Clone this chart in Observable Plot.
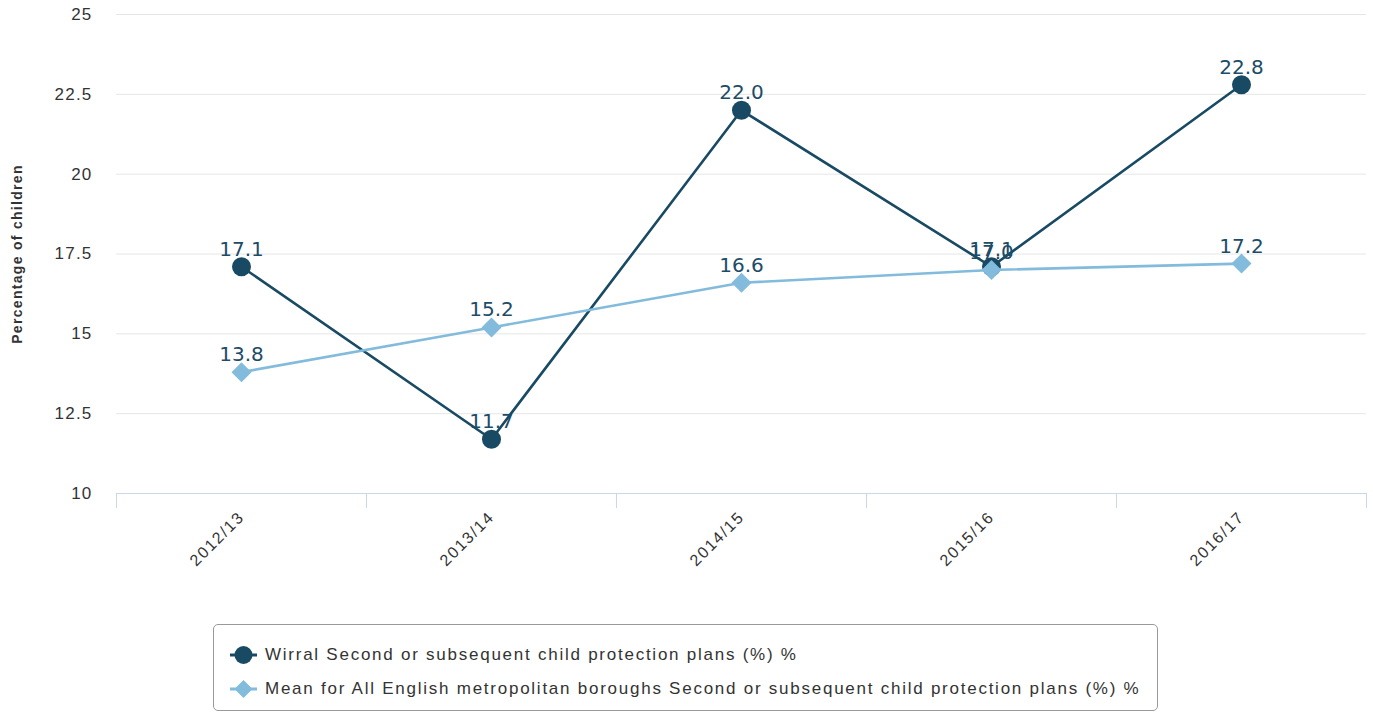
<!DOCTYPE html>
<html>
<head>
<meta charset="utf-8">
<script src="https://cdn.jsdelivr.net/npm/d3@7"></script>
<script src="https://cdn.jsdelivr.net/npm/@observablehq/plot@0.6"></script>
<style>
  html, body { margin: 0; padding: 0; background: #fff; }
  #wrap { position: relative; width: 1373px; height: 713px; }
  #legend { position: absolute; left: 213px; top: 624px; width: 945px; height: 87px; box-sizing: border-box;
    border: 1px solid #999; border-radius: 5px; font-family: "Liberation Sans", Arial, sans-serif; font-size: 17px;
    color: #333; letter-spacing: 1.75px; }
  .item { position: absolute; left: 15px; height: 24px; display: flex; align-items: center; white-space: nowrap; }
  .item svg { margin-right: 8px; }
</style>
</head>
<body>
<div id="wrap">
  <div id="chart"></div>
  <div id="legend"></div>
</div>
<script>
const categories = ["2012/13", "2013/14", "2014/15", "2015/16", "2016/17"];
const wirral = [17.1, 11.7, 22.0, 17.1, 22.8];
const meanMet = [13.8, 15.2, 16.6, 17.0, 17.2];
const yTicks = [10, 12.5, 15, 17.5, 20, 22.5, 25];
const seriesNames = [
  "Wirral Second or subsequent child protection plans (%) %",
  "Mean for All English metropolitan boroughs Second or subsequent child protection plans (%) %"
];
const yTitle = "Percentage of children";

const dark = "#194a64";
const light = "#82bbdb";
const labelColor = "#1c4c68";

const idx = categories.map((c, i) => i);
const boundaries = categories.map((c, i) => i - 0.5).concat([categories.length - 0.5]);
const wirralRows = categories.map((c, i) => ({i, cat: c, v: wirral[i]}));
const meanRows = categories.map((c, i) => ({i, cat: c, v: meanMet[i]}));

const chart = Plot.plot({
  width: 1373,
  height: 615,
  marginLeft: 116,
  marginRight: 7,
  marginTop: 14,
  marginBottom: 122,
  x: {type: "linear", domain: [-0.5, categories.length - 0.5]},
  y: {domain: [10, 25]},
  style: {fontFamily: "'Liberation Sans', Arial, sans-serif", fontSize: "16px", color: "#333", background: "#fff"},
  marks: [
    Plot.gridY(yTicks.slice(1), {stroke: "#e6e6e6", strokeOpacity: 1}),
    Plot.axisY(yTicks, {tickSize: 0, tickPadding: 24, tickFormat: d => String(d), label: null, fill: "#333", fontSize: 17}),
    Plot.ruleY([10], {stroke: "#ccd6eb", strokeWidth: 1.2}),
    Plot.axisX(boundaries, {tickSize: 15, stroke: "#ccd6eb", strokeOpacity: 1, tickFormat: () => "", label: null}),
    Plot.axisX(idx, {tickSize: 0, tickPadding: 21, tickRotate: -45, tickFormat: i => categories[i], label: null, fill: "#333"}),
    Plot.text([yTitle], {frameAnchor: "left", dx: -99, rotate: -90, textAnchor: "middle", fontWeight: "bold", fontSize: 14, fill: "#333"}),
    Plot.line(wirralRows, {x: "i", y: "v", stroke: dark, strokeWidth: 2.6}),
    Plot.dot(wirralRows, {x: "i", y: "v", r: 9.5, fill: dark, stroke: "none"}),
    Plot.line(meanRows, {x: "i", y: "v", stroke: light, strokeWidth: 2.6}),
    Plot.dot(meanRows, {x: "i", y: "v", symbol: "diamond2", r: 9, fill: light, stroke: "none"}),
    Plot.text(wirralRows.concat(meanRows), {x: "i", y: "v", text: d => d.v.toFixed(1), dy: -11, lineAnchor: "bottom",
      fill: labelColor, fontFamily: "'DejaVu Sans', Verdana, sans-serif", fontSize: 20})
  ]
});
document.getElementById("chart").appendChild(chart);

const svg = d3.select(chart);
svg.selectAll('g[aria-label="y-axis tick label"] text').style("letter-spacing", "1.2px");
svg.selectAll('g[aria-label="x-axis tick label"] text').style("letter-spacing", "1.6px");
svg.selectAll('text').filter(function() { return this.textContent === yTitle; }).style("letter-spacing", "1.3px");

// Legend
const legend = d3.select("#legend");
const symbols = [
  {name: seriesNames[0], color: dark, shape: "circle"},
  {name: seriesNames[1], color: light, shape: "diamond"}
];
symbols.forEach((s, k) => {
  const item = legend.append("div").attr("class", "item").style("top", (k === 0 ? 18 : 52) + "px");
  const sv = item.append("svg").attr("width", 28).attr("height", 22);
  sv.append("line").attr("x1", 1).attr("x2", 28).attr("y1", 11).attr("y2", 11).attr("stroke", s.color).attr("stroke-width", 3);
  if (s.shape === "circle") sv.append("circle").attr("cx", 14.5).attr("cy", 11).attr("r", 9).attr("fill", s.color);
  else sv.append("path").attr("d", "M14.5,2L23.5,11L14.5,20L5.5,11Z").attr("fill", s.color);
  item.append("span").text(s.name);
});
</script>
</body>
</html>
